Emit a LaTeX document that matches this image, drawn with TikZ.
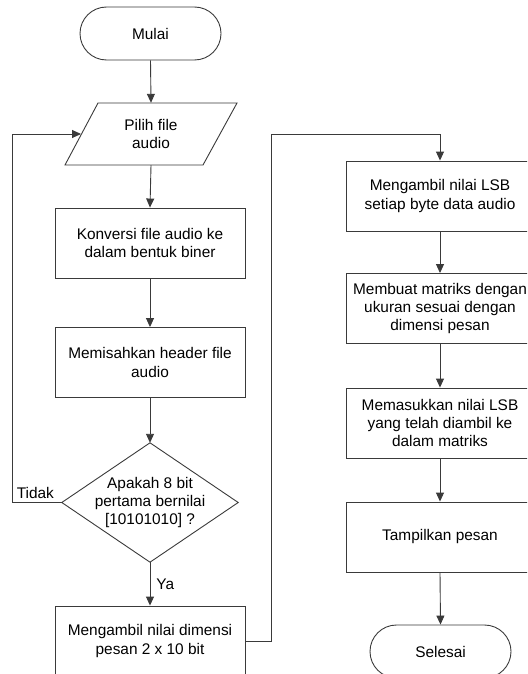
\documentclass[tikz,border=0pt]{standalone}
\usepackage{fontspec}
\setmainfont{Liberation Sans}
\usetikzlibrary{arrows.meta,shapes.geometric}
\definecolor{ln}{HTML}{3A3A3A}
\begin{document}
\begin{tikzpicture}[x=1pt,y=-1pt,
  every node/.style={font=\fontsize{15.4}{18.3}\selectfont, align=center, inner sep=0pt},
  proc/.style={draw=ln, line width=0.9pt, minimum width=190pt, minimum height=70pt},
  procr/.style={draw=ln, line width=0.9pt, minimum width=188pt, minimum height=70pt},
  term/.style={draw=ln, line width=0.9pt, rounded corners=26.5pt, minimum width=141pt, minimum height=53pt},
  shapeonly/.style={draw=none},
  conn/.style={draw=ln, line width=0.9pt, -{Triangle[width=8pt,length=9pt]}},
  plain/.style={draw=ln, line width=0.9pt}
]
\useasboundingbox (0,0) rectangle (527,674);
\clip (0,0) rectangle (527,674);

% left column
\node[term] (mulai) at (150.5,33.5) {Mulai};
\node[shapeonly, minimum width=172pt, minimum height=62pt] (pilih) at (151,134) {Pilih file\\audio};
\draw[plain] (98,103) -- (237,103) -- (203,165) -- (65,165) -- cycle;
\coordinate (pilihin) at (81,134);
\node[proc] (konv) at (150,243) {Konversi file audio ke\\dalam bentuk biner};
\node[proc] (pisah) at (150,362.5) {Memisahkan header file\\audio};
\node[shapeonly, minimum width=176pt, minimum height=119pt] (cek) at (150,502.5) {Apakah 8 bit\\pertama bernilai\\{[}10101010{]} ?};
\draw[plain] (cek.north) -- (cek.east) -- (cek.south) -- (cek.west) -- cycle;
\node[proc] (dim) at (150,641) {Mengambil nilai dimensi\\pesan 2 x 10 bit};

% right column
\node[procr] (lsb) at (440,196) {Mengambil nilai LSB\\setiap byte data audio};
\node[procr] (mat) at (440,308.5) {Membuat matriks dengan\\ukuran sesuai dengan\\dimensi pesan};
\node[procr] (masuk) at (440,423) {Memasukkan nilai LSB\\yang telah diambil ke\\dalam matriks};
\node[procr] (tampil) at (440,537) {Tampilkan pesan};
\node[term] (selesai) at (440.5,651.5) {Selesai};

% connectors
\draw[conn] (mulai.south) -- (pilih.north);
\draw[conn] (pilih.south) -- (konv.north);
\draw[conn] (konv.south) -- (pisah.north);
\draw[conn] (pisah.south) -- (cek.north);
\draw[conn] (cek.south) -- node[right=6pt, pos=0.5] (ya) {Ya} (dim.north);
\coordinate (lcorner) at (12,502.5);
\draw[conn] (cek.west) -- node[above=3pt, pos=0.53] (tidak) {Tidak} (lcorner) |- (pilihin);
\coordinate (rcorner) at (271,134);
\draw[conn] (dim.east) -| (rcorner) -| (lsb.north);
\draw[conn] (lsb.south) -- (mat.north);
\draw[conn] (mat.south) -- (masuk.north);
\draw[conn] (masuk.south) -- (tampil.north);
\draw[conn] (tampil.south) -- (selesai.north);
\end{tikzpicture}
\end{document}
